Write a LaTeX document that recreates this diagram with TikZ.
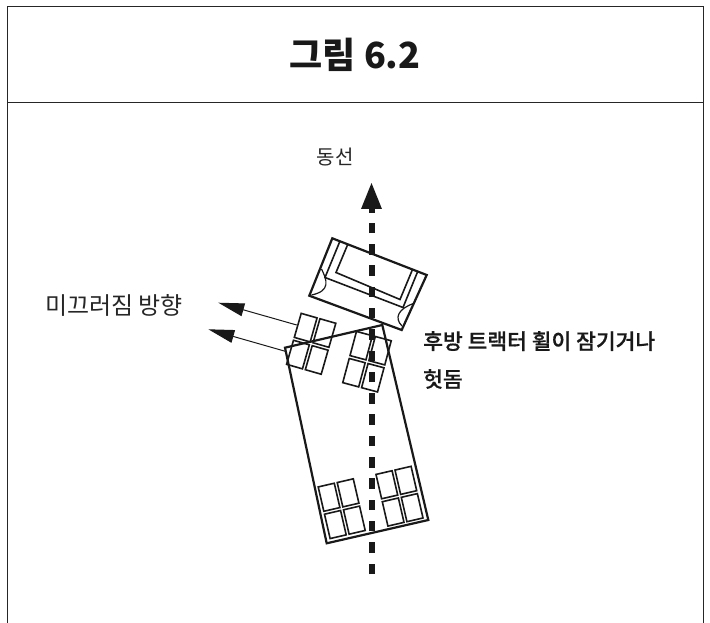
\documentclass[tikz,border=0pt]{standalone}
\usepackage{fontspec}
\setmainfont{Noto Sans CJK KR}
\newfontfamily\medfont[FakeBold=0.6]{Noto Sans CJK KR Medium}
\usetikzlibrary{arrows.meta,calc}
\tikzset{
    frameline/.style={draw=black!85,line width=1pt},
    tirebox/.style={draw=black!90,line width=1.6pt},
    bodyline/.style={draw=black!90,line width=2.2pt},
    slideline/.style={draw=black!90,line width=1pt,-{Triangle[length=26pt,width=13pt]}},
    lbl/.style={inner sep=0pt,text=black!85,font=\fontsize{20}{24}\selectfont},
    blbl/.style={inner sep=0pt,align=left,text=black!90,font=\fontsize{21.5}{38}\medfont},
}
% four tires around a centre, 36x53
\newcommand{\wheelset}[3]{%
    \begin{scope}[shift={(#1,#2)},rotate=#3]
        \foreach \x in {-18,1.5}
            \foreach \y in {-26.5,1.5}
                \draw[tirebox] (\x,\y) rectangle ++(16.5,25);
    \end{scope}}
\begin{document}
\begin{tikzpicture}[x=1pt,y=-1pt]
    \useasboundingbox (0,0) rectangle (710,623);
    % frame
    \draw[frameline] (7.5,623) -- (7.5,6.5) -- (703.5,6.5) -- (703.5,623);
    \draw[frameline] (7.5,102.5) -- (703.5,102.5);
    \node[inner sep=0pt,text=black!90,font=\fontsize{36}{44}\selectfont\bfseries] (title) at (355,55) {그림 6.2};
    % wheels under the body
    \wheelset{311.2}{343.8}{-16}
    \wheelset{367}{361.7}{-15}
    \wheelset{341.7}{508.7}{13}
    \wheelset{399.5}{496.2}{13}
    % body
    \coordinate (bodytl) at (285,347.7);
    \coordinate (bodytr) at (382.3,325);
    \coordinate (bodybr) at (428.3,520);
    \coordinate (bodybl) at (326.7,543.3);
    \draw[bodyline] (bodytl) -- (bodytr) -- (bodybr) -- (bodybl) -- cycle;
    % cab
    \coordinate (cabtl) at (332.3,238.3);
    \coordinate (cabtr) at (426.7,275);
    \coordinate (cabbr) at (401.7,330);
    \coordinate (cabbl) at (309.3,295.7);
    \draw[bodyline,fill=white] (cabtl) -- (cabtr) -- (cabbr) -- (cabbl) -- cycle;
    \draw[bodyline,line width=1.6pt] (340,241) -- (325,277.5) -- (403,307.5) -- (417.5,272);
    \draw[bodyline,line width=1.6pt] (347.5,245) -- (336,272.5) -- (400,299.5) -- (412.5,269.5);
    \draw[bodyline,line width=1.2pt] (321.5,269) .. controls (327,280) and (331,291) .. (311.5,295);
    \draw[bodyline,line width=1.2pt] (413.5,303.5) .. controls (398,309) and (394,318) .. (402,326);
    % path of travel
    \coordinate (pathend) at (371.5,574);
    \coordinate (pathtip) at (371.5,182);
    \draw[line width=6pt,draw=black!90,dash pattern=on 10.5pt off 10.8pt] (pathend) -- (371.5,212);
    \draw[line width=6pt,draw=black!90,-{Triangle[length=27pt,width=19pt]}] (371.5,213) -- (pathtip);
    % slide direction
    \coordinate (slidea) at (296.7,325);
    \coordinate (slideb) at (286.7,351.7);
    \coordinate (tipa) at (218.3,302.7);
    \coordinate (tipb) at (208.3,329.3);
    \draw[slideline] (slidea) -- (tipa);
    \draw[slideline] (slideb) -- (tipb);
    % labels
    \node[lbl] (pathlbl) at (335,157) {동선};
    \node[lbl,font=\fontsize{24}{28}\selectfont,anchor=west] (slidelbl) at (45,305) {미끄러짐 방향};
    \node[blbl,anchor=west] (lockedlbl) at (423,360) {후방 트랙터 휠이 잠기거나\\헛돔};
\end{tikzpicture}
\end{document}
